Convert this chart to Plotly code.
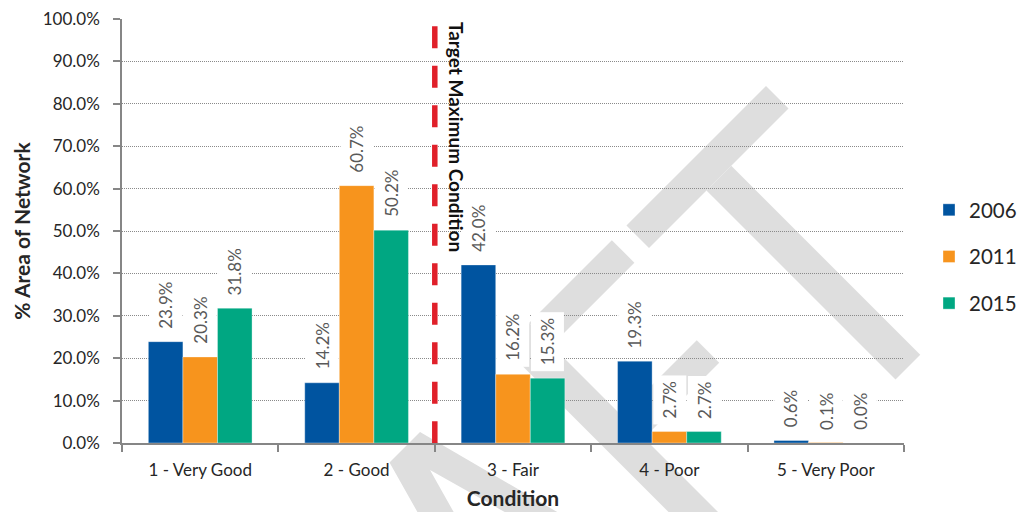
import plotly.graph_objects as go

# ---- data -------------------------------------------------------------
categories = ["1 - Very Good", "2 - Good", "3 - Fair", "4 - Poor", "5 - Very Poor"]
years = ["2006", "2011", "2015"]
share_2006 = [23.9, 14.2, 42.0, 19.3, 0.6]
share_2011 = [20.3, 60.7, 16.2, 2.7, 0.1]
share_2015 = [31.8, 50.2, 15.3, 2.7, 0.0]
y_ticks = [0, 10, 20, 30, 40, 50, 60, 70, 80, 90, 100]
target_label = "Target Maximum Condition"
target_boundary = 1.5          # category boundary between "2 - Good" and "3 - Fair"
target_top = 98.3

series = [share_2006, share_2011, share_2015]
colors = ["#0054a0", "#f7941d", "#00a782"]

# ---- layout constants -------------------------------------------------
W, H = 1018, 512
PLOT_L, PLOT_R, PLOT_T, PLOT_B = 122, 904, 19, 443
BARGAP = 0.337
BAR_W = (1 - BARGAP) / len(years)
FONT = "Lato"
AXIS_GREY = "#868686"

fig = go.Figure()
for name, vals, col in zip(years, series, colors):
    fig.add_trace(go.Bar(
        x=categories, y=vals, name=name, legendgroup=name,
        marker=dict(color=col, line=dict(color="rgba(255,255,255,0.35)", width=1)),
        hoverinfo="skip",
    ))

# value labels on white boxes above each bar
annotations = []
for j, vals in enumerate(series):
    for i, v in enumerate(vals):
        annotations.append(dict(
            x=i + (j - 1) * BAR_W, y=v, xref="x", yref="y",
            text=f"{v:.1f}%", textangle=-90, showarrow=False,
            xanchor="center", yanchor="bottom", yshift=7,
            bgcolor="white", borderpad=6, borderwidth=0,
            font=dict(family=FONT, size=17, color="#595959"),
        ))

annotations.append(dict(
    x=target_boundary, y=target_top, xref="x", yref="y",
    text=target_label, textangle=90, showarrow=False,
    xanchor="left", yanchor="top", xshift=8, yshift=6,
    font=dict(family=FONT, size=19, color="#111111", weight="bold"),
))

shapes = [dict(
    type="line", xref="x", yref="y",
    x0=target_boundary, x1=target_boundary, y0=target_top, y1=0,
    line=dict(color="#e0202a", width=5.5, dash="22px,17.5px"),
    layer="above",
)]

# ---- diagonal DRAFT watermark strokes (rotated 45 degrees) -------------
# a runs along the text baseline (towards upper right), b runs down the letters
def rot_to_paper(a, b):
    px, py = (a + b) / 2, (b - a) / 2
    return (px - PLOT_L) / (PLOT_R - PLOT_L), (PLOT_B - py) / (PLOT_B - PLOT_T)

def poly_path(points):
    pts = [rot_to_paper(a, b) for a, b in points]
    return "M" + " L".join(f"{x:.4f},{y:.4f}" for x, y in pts) + " Z"

def stroke(a0, a1, b0, b1):
    return poly_path([(a0, b0), (a1, b0), (a1, b1), (a0, b1)])

wm_strokes = [
    stroke(401, 680, 852, 897),      # T bar
    stroke(516, 565.5, 897, 1275),   # T stem
    stroke(156.5, 206, 852, 1300),   # F stem
    stroke(206, 371.7, 852, 897),    # F top arm
    stroke(206, 356.5, 1037, 1082),  # F middle arm
    poly_path([(-73, 852), (-12, 852), (106, 1300), (-198, 1300)])
    + " " + poly_path([(-40, 900), (72, 1300), (-152, 1300)]),  # A
]
for p in wm_strokes:
    shapes.append(dict(type="path", xref="paper", yref="paper", path=p,
                       fillcolor="#dedede", line=dict(width=0),
                       fillrule="evenodd", layer="below"))

fig.update_layout(
    width=W, height=H, autosize=False,
    margin=dict(l=PLOT_L, r=W - PLOT_R, t=PLOT_T, b=H - PLOT_B, pad=0,
                autoexpand=False),
    paper_bgcolor="white", plot_bgcolor="white",
    barmode="group", bargap=BARGAP, bargroupgap=0,
    font=dict(family=FONT, color="#262626"),
    showlegend=True,
    legend=dict(
        x=(929 - PLOT_L) / (PLOT_R - PLOT_L), xanchor="left",
        y=(PLOT_B - 190) / (PLOT_B - PLOT_T), yanchor="top",
        font=dict(family=FONT, size=20.5, color="#262626"),
        traceorder="grouped", tracegroupgap=17,
        bgcolor="rgba(0,0,0,0)",
    ),
    xaxis=dict(
        type="category", tickson="boundaries",
        showline=True, linecolor=AXIS_GREY, linewidth=1.5,
        ticks="outside", ticklen=7, tickcolor=AXIS_GREY, tickwidth=1.5,
        showgrid=False, zeroline=False,
        tickfont=dict(family=FONT, size=17, color="#262626"),
        ticklabelstandoff=11,
        title=dict(text="Condition", standoff=12,
                   font=dict(family=FONT, size=21, color="#262626", weight="bold")),
    ),
    yaxis=dict(
        range=[0, 100], tickvals=y_ticks,
        ticktext=[f"{t:.1f}%" for t in y_ticks],
        showline=True, linecolor=AXIS_GREY, linewidth=1.5,
        ticks="outside", ticklen=7, tickcolor=AXIS_GREY, tickwidth=1.5,
        showgrid=True, gridcolor="#8a8a8a", gridwidth=1, griddash="1px,1px",
        zeroline=False,
        tickfont=dict(family=FONT, size=17, color="#262626"),
        ticklabelstandoff=10,
        title=dict(text="% Area of Network", standoff=6,
                   font=dict(family=FONT, size=21, color="#262626", weight="bold")),
    ),
    annotations=annotations,
    shapes=shapes,
)

fig.write_html("out.html")
